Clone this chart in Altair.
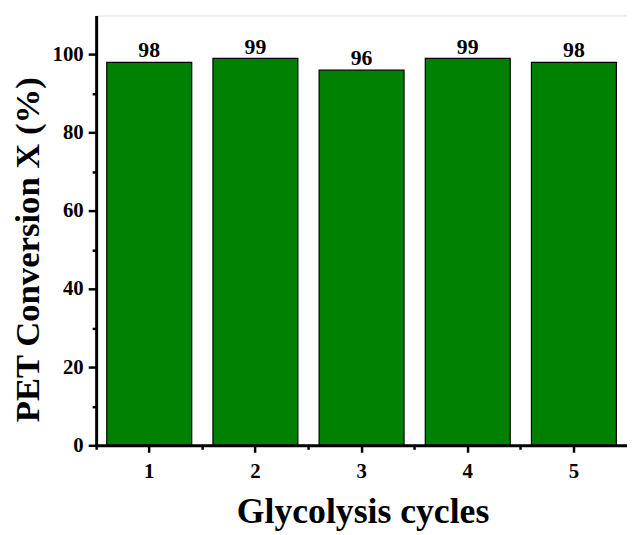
import altair as alt
import pandas as pd

cycles = ["1", "2", "3", "4", "5"]
conversion = [98, 99, 96, 99, 98]

df = pd.DataFrame({"cycle": cycles, "conv": conversion})

FONT = "Liberation Serif"

xscale = alt.Scale(paddingInner=0, paddingOuter=0)
yscale = alt.Scale(domain=[0, 110], nice=False)

bars = alt.Chart(df).mark_bar(
    color="#008000", stroke="black", strokeWidth=1.2, width=alt.RelativeBandSize(0.8)
).encode(
    x=alt.X("cycle:N", scale=xscale, sort=cycles, axis=alt.Axis(
        title="Glycolysis cycles", orient="bottom", labelAngle=0,
        titleFont=FONT, titleFontSize=36, titleFontWeight="bold", titleColor="black",
        titleX=269, titleY=78, titleBaseline="alphabetic", titleAlign="center",
        labelFont=FONT, labelFontSize=21, labelFontWeight="bold", labelColor="black",
        labelPadding=8, tickSize=7, tickWidth=2.5, tickColor="black",
        domainColor="black", domainWidth=3, zindex=2)),
    y=alt.Y("conv:Q", scale=yscale, axis=alt.Axis(
        title="PET Conversion X (%)", orient="left", values=[0, 20, 40, 60, 80, 100],
        titleFont=FONT, titleFontSize=35, titleFontWeight="bold", titleColor="black",
        titleX=-58, titleY=236, titleBaseline="alphabetic", titleAlign="center", titleAngle=-90,
        labelFont=FONT, labelFontSize=21, labelFontWeight="bold", labelColor="black",
        labelPadding=5, tickSize=8, tickWidth=2.5, tickColor="black", grid=False,
        domainColor="black", domainWidth=3, zindex=2)),
)

minor = alt.Chart(df).mark_bar(opacity=0, width=alt.RelativeBandSize(0.8)).encode(
    x=alt.X("cycle:N", scale=xscale, sort=cycles, axis=alt.Axis(
        title=None, orient="bottom", labels=False, domain=False, bandPosition=0,
        tickSize=4, tickWidth=2.5, tickColor="black", zindex=2)),
    y=alt.Y("conv:Q", scale=yscale, axis=alt.Axis(
        title=None, orient="left", labels=False, domain=False, grid=False,
        values=[10, 30, 50, 70, 90], tickSize=4, tickWidth=2.5, tickColor="black", zindex=2)),
)

text = alt.Chart(df).mark_text(
    font=FONT, fontSize=22, fontWeight="bold", color="black", baseline="bottom", dy=0
).encode(
    x=alt.X("cycle:N", scale=xscale, sort=cycles, axis=None),
    y=alt.Y("conv:Q", scale=yscale, axis=None),
    text=alt.Text("conv:Q"),
)

chart = alt.layer(bars, minor, text).resolve_axis(x="independent", y="independent").properties(
    width=536, height=434,
    autosize=alt.AutoSizeParams(type="none"),
    padding={"left": 89, "top": 5, "right": 0, "bottom": 88},
).configure_view(stroke="#555555", strokeWidth=1).configure(background="white")

chart.save("out.html", embed_options={"renderer": "svg", "actions": False})
